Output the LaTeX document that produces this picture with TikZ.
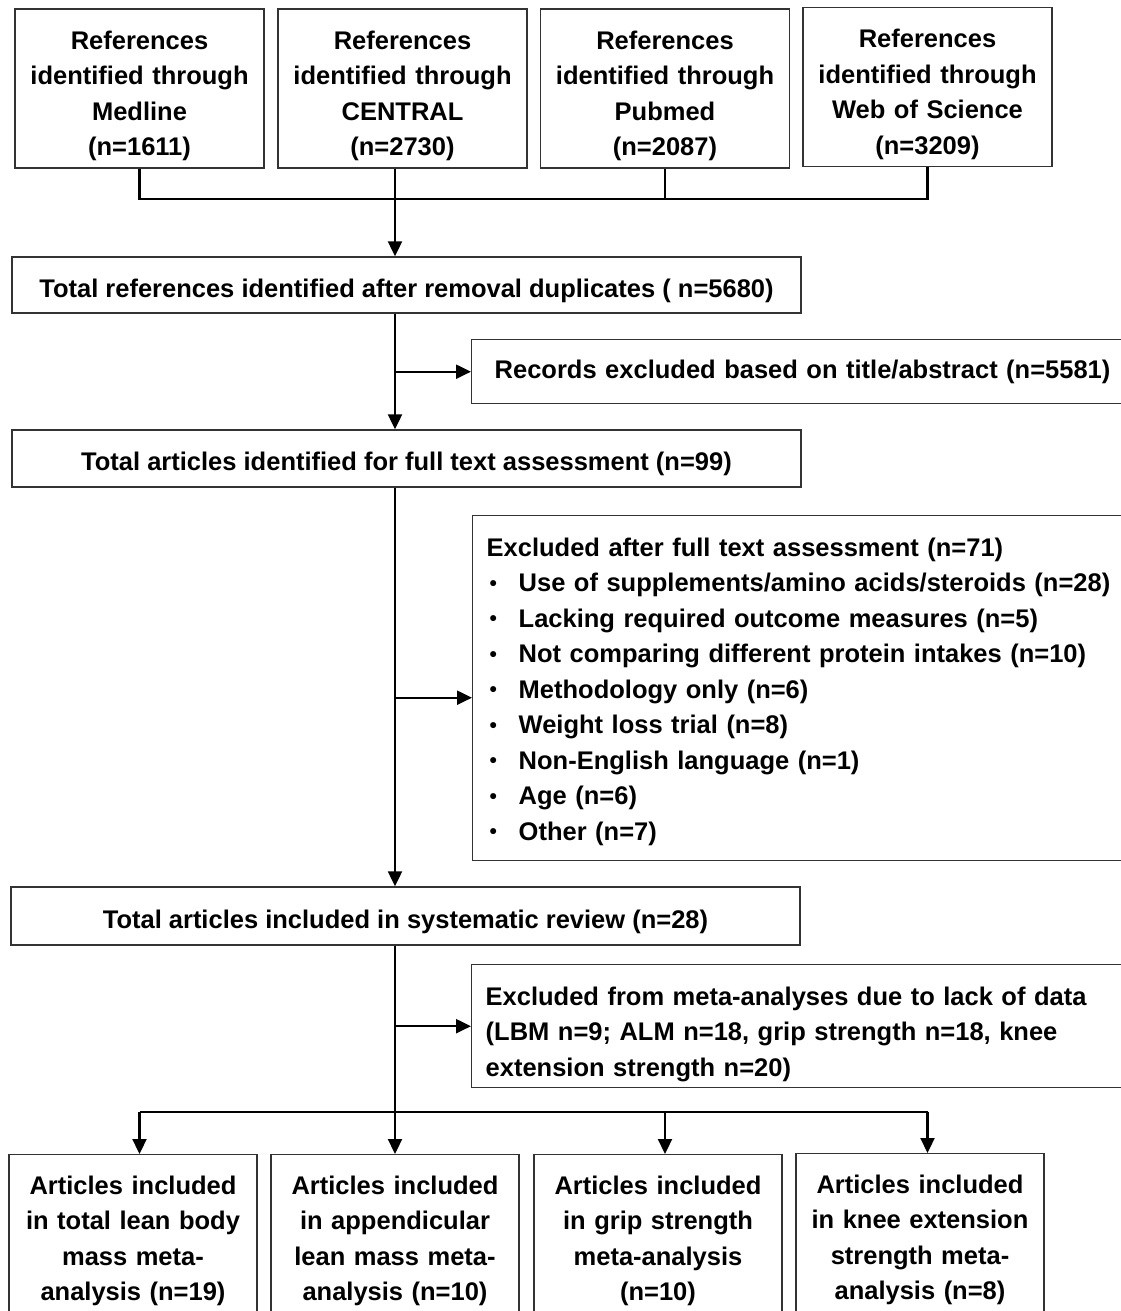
\documentclass[tikz,border=0pt]{standalone}
\usepackage{fontspec}
\setmainfont{Liberation Sans}
\usetikzlibrary{arrows.meta}

\begin{document}
\begin{tikzpicture}[x=1pt, y=1pt, font=\fontsize{25.5}{35.5}\selectfont\bfseries, -{Triangle[length=15pt,width=14pt]}]
\tikzstyle{b} = [draw=black!80, line width=1.4pt, inner sep=0pt]
\tikzstyle{src} = [b, align=center, text width=240pt, minimum width=249pt, minimum height=159pt, execute at begin node=\rule{0pt}{33pt}]
\tikzstyle{tot} = [b, minimum width=789pt, text height=28pt, text depth=4pt]
\tikzstyle{ex} = [b, anchor=north west, align=left, inner xsep=14pt, text width=660pt]
\tikzstyle{art} = [b, anchor=north, align=center, text width=240pt, minimum width=248pt, minimum height=169pt, execute at begin node=\rule{0pt}{22pt}]
\tikzstyle{e} = [line width=2.2pt]
\tikzstyle{l} = [line width=2.2pt, -]
\newcommand{\bul}{\makebox[32pt][l]{\hspace{3pt}\raisebox{1.5pt}{\fontsize{21}{21}\selectfont •}}}

\clip (0,0) rectangle (1121,-1311);

\node[src] (med) at (139.5,-88.5) {References\\identified through\\Medline\\(n=1611)};
\node[src] (cen) at (402.5,-88.5) {References\\identified through\\CENTRAL\\(n=2730)};
\node[src] (pub) at (665,-88.5) {References\\identified through\\Pubmed\\(n=2087)};
\node[src] (wos) at (927.5,-87) {References\\identified through\\Web of Science\\(n=3209)};

\node[tot, minimum height=56pt] (totref) at (406.5,-285) {Total references identified after removal duplicates ( n=5680)};
\node[ex, inner xsep=23pt, text width=650pt, minimum height=64pt] (rec) at (471,-339) {Records excluded based on title/abstract (n=5581)};
\node[tot, minimum height=57pt] (totart) at (406.5,-458.5) {Total articles identified for full text assessment (n=99)};
\node[ex, minimum height=345pt] (exa) at (472,-515) {\rule{0pt}{25pt}Excluded after full text assessment (n=71)\\
  \bul Use of supplements/amino acids/steroids (n=28)\\
  \bul Lacking required outcome measures (n=5)\\
  \bul Not comparing different protein intakes (n=10)\\
  \bul Methodology only (n=6)\\
  \bul Weight loss trial (n=8)\\
  \bul Non-English language (n=1)\\
  \bul Age (n=6)\\
  \bul Other (n=7)};
\node[tot, minimum height=58pt] (sysrev) at (405.5,-916) {Total articles included in systematic review (n=28)};
\node[ex, minimum height=123pt] (exb) at (471,-964) {\rule{0pt}{34pt}Excluded from meta-analyses due to lack of data\\(LBM n=9; ALM n=18, grip strength n=18, knee\\extension strength n=20)};

\node[art] (artA) at (133,-1154) {Articles included\\in total lean body\\mass meta-\\analysis (n=19)};
\node[art] (artB) at (395,-1154) {Articles included\\in appendicular\\lean mass meta-\\analysis (n=10)};
\node[art] (artC) at (658,-1154) {Articles included\\in grip strength\\meta-analysis\\(n=10)};
\node[art] (artD) at (920,-1153) {Articles included\\in knee extension\\strength meta-\\analysis (n=8)};

\coordinate (jt) at (395,-199);
\coordinate (jb) at (395,-1112);

% sources merge
\draw[l] (med.south) |- (jt) -| (wos.south);
\draw[l] (pub.south) -- (pub.south |- jt);
\draw[l] ([xshift=-7.5pt]cen.south) -- (jt);
\draw[e] (jt) -- (jt |- totref.north);

% main line with exclusions
\draw[e] (totref.south -| jt) -- (totart.north -| jt);
\draw[e] (rec.west -| jt) -- (rec.west);
\draw[e] (totart.south -| jt) -- (sysrev.north -| jt);
\draw[e] ([yshift=-9.5pt]exa.west -| jt) -- ([yshift=-9.5pt]exa.west);
\draw[e] (sysrev.south -| jt) -- (artB.north);
\draw[e] (exb.west -| jt) -- (exb.west);

% split to meta-analyses
\draw[l] (med.south |- jb) -- (wos.south |- jb);
\foreach \s/\t in {med/artA, pub/artC, wos/artD}
  \draw[e] (\s.south |- jb) -- (\s.south |- \t.north);
\end{tikzpicture}
\end{document}
